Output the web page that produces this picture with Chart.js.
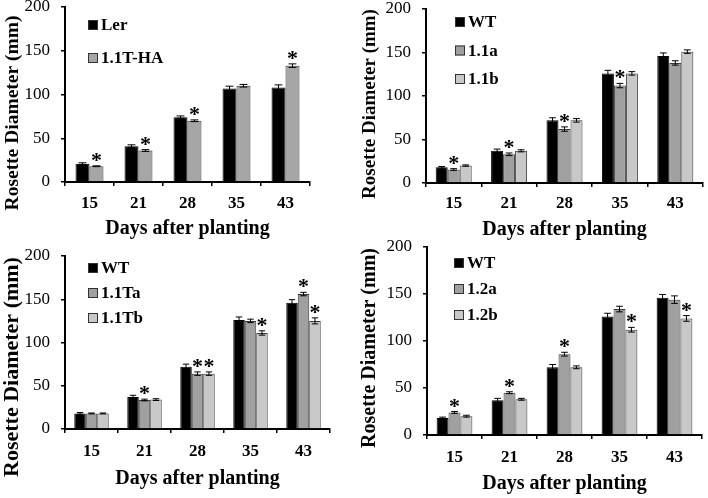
<!DOCTYPE html>
<html><head><meta charset="utf-8">
<script src="https://cdn.jsdelivr.net/npm/chart.js@4.4.1/dist/chart.umd.min.js"></script>
<style>
html,body{margin:0;padding:0;background:#fff;}
body{width:708px;height:498px;position:relative;overflow:hidden;}
canvas{position:absolute;}
</style></head><body>
<canvas id="c1" width="354" height="249" style="left:0;top:0"></canvas>
<canvas id="c2" width="354" height="249" style="left:354px;top:0"></canvas>
<canvas id="c3" width="354" height="249" style="left:0;top:249px"></canvas>
<canvas id="c4" width="354" height="260" style="left:354px;top:238px"></canvas>
<script>
// ---- data ----
const days = ['15', '21', '28', '35', '43'];
const yTicks = [0, 50, 100, 150, 200];
const xTitle = 'Days after planting';
const yTitle = 'Rosette Diameter (mm)';

// Panel A
const lerMean   = [21, 41, 74, 107, 108];
const lerErr    = [1, 1.5, 1.5, 2.5, 3];
const t11haMean = [18, 36, 70, 110, 133];
const t11haErr  = [0.5, 1, 1, 1.5, 2];
const t11haSig  = [1, 1, 1, 0, 1];

// Panel B
const wtBMean = [18, 37, 72, 126, 146];
const wtBErr  = [1, 2, 3, 3.5, 3.5];
const a11Mean = [15.5, 33, 62, 112, 138];
const a11Err  = [1, 1.5, 2.5, 2.5, 2.5];
const a11Sig  = [1, 1, 1, 1, 0];
const b11Mean = [20, 37, 72, 126, 151];
const b11Err  = [0.8, 1.2, 2, 2, 2];

// Panel C
const wtCMean = [18, 37, 72, 126, 146];
const wtCErr  = [1, 2, 3, 3.5, 3.5];
const taMean  = [18, 33.5, 64, 125, 156];
const taErr   = [0.5, 1, 2, 2, 2];
const taSig   = [0, 1, 1, 0, 1];
const tbMean  = [18, 34, 64, 111, 125];
const tbErr   = [0.5, 1, 2, 2.5, 3.5];
const tbSig   = [0, 0, 1, 1, 1];

// Panel D
const wtDMean = [18, 37, 72, 126, 146];
const wtDErr  = [1, 2, 3, 3.5, 3.5];
const a12Mean = [24, 45, 86, 134, 144];
const a12Err  = [1, 1, 2, 3, 4];
const a12Sig  = [1, 1, 1, 0, 0];
const b12Mean = [20, 38, 72, 112, 124];
const b12Err  = [1, 1, 1.5, 2.5, 3];
const b12Sig  = [0, 0, 0, 1, 1];
const noSig   = [0, 0, 0, 0, 0];

const FAM = "'Liberation Serif','Times New Roman',serif";

const errPlugin = {
  id: 'errStars',
  afterDatasetsDraw(chart) {
    const ctx = chart.ctx, ys = chart.scales.y;
    ctx.save();
    chart.data.datasets.forEach((ds, di) => {
      const meta = chart.getDatasetMeta(di);
      meta.data.forEach((bar, i) => {
        const v = ds.data[i], e = ds.errors[i];
        const yt = ys.getPixelForValue(v + e), yb = ys.getPixelForValue(v - e);
        const cap = bar.width * 0.28;
        ctx.strokeStyle = '#000'; ctx.lineWidth = 1;
        ctx.beginPath();
        ctx.moveTo(bar.x, yt); ctx.lineTo(bar.x, yb);
        ctx.moveTo(bar.x - cap, yt); ctx.lineTo(bar.x + cap, yt);
        ctx.moveTo(bar.x - cap, yb); ctx.lineTo(bar.x + cap, yb);
        ctx.stroke();
        if (ds.sig[i]) {
          ctx.fillStyle = '#000';
          ctx.font = 'bold 22px ' + FAM;
          ctx.textAlign = 'center'; ctx.textBaseline = 'alphabetic';
          ctx.fillText('*', bar.x, yt + 1);
        }
      });
    });
    ctx.restore();
  }
};

const legendPlugin = {
  id: 'boxLegend',
  afterDraw(chart, args, opts) {
    const ctx = chart.ctx, a = chart.chartArea;
    ctx.save();
    chart.data.datasets.forEach((ds, k) => {
      const cy = a.top + opts.y0 + k * opts.dy;
      const x = a.left + opts.dx;
      ctx.fillStyle = ds.backgroundColor;
      ctx.fillRect(x, cy - 5, 10, 10);
      ctx.strokeStyle = '#333'; ctx.lineWidth = 1;
      ctx.strokeRect(x + 0.5, cy - 4.5, 9, 9);
      ctx.fillStyle = '#000';
      ctx.font = 'bold 17px ' + FAM;
      ctx.textAlign = 'left'; ctx.textBaseline = 'middle';
      ctx.fillText(ds.label, x + 13, cy + 1);
    });
    ctx.restore();
  }
};

// vertical axis title, drawn along the y scale (not limited to the plot height)
const yTitlePlugin = {
  id: 'yTitleFree',
  afterDraw(chart, args, opts) {
    const ctx = chart.ctx;
    ctx.save();
    ctx.translate(opts.x, opts.cy);
    ctx.rotate(-Math.PI / 2);
    ctx.fillStyle = '#000';
    ctx.font = 'bold ' + opts.size + 'px ' + FAM;
    ctx.textAlign = 'center'; ctx.textBaseline = 'middle';
    ctx.fillText(opts.text, 0, 0);
    ctx.restore();
  }
};

function makePanel(id, cfg) {
  const cv = document.getElementById(id);
  const W = cv.width, H = cv.height, A = cfg.area;
  new Chart(cv, {
    type: 'bar',
    data: {
      labels: days,
      datasets: cfg.series.map(s => ({
        label: s.label, data: s.data, errors: s.err, sig: s.sig,
        backgroundColor: s.color, borderColor: s.border, borderWidth: 1,
        categoryPercentage: cfg.group, barPercentage: 1
      }))
    },
    options: {
      responsive: false, animation: false, devicePixelRatio: 1,
      layout: { padding: { left: 0, top: A.t, right: W - A.r, bottom: 0 } },
      plugins: {
        legend: { display: false }, tooltip: { enabled: false },
        boxLegend: cfg.legend,
        yTitleFree: Object.assign({ text: yTitle }, cfg.ytitle)
      },
      scales: {
        x: {
          grid: { display: true, drawOnChartArea: false, drawTicks: true, tickLength: 4, color: '#000', lineWidth: 1.5 },
          border: { display: true, color: '#000', width: 2 },
          ticks: { color: '#000', padding: cfg.xpad, font: { family: FAM, size: 17, weight: 'bold' } },
          title: { display: true, text: xTitle, color: '#000',
                   font: { family: FAM, size: 20, weight: 'bold' }, padding: { top: 0, bottom: cfg.xtp } },
          afterFit: s => { s.height = H - A.b; s.paddingLeft = 0; s.paddingRight = 0; }
        },
        y: {
          min: 0, max: 200,
          afterBuildTicks: s => { s.ticks = yTicks.map(v => ({ value: v })); },
          grid: { display: true, drawOnChartArea: false, drawTicks: true, tickLength: 4, color: '#000', lineWidth: 1.5 },
          border: { display: true, color: '#000', width: 2 },
          ticks: { color: '#000', padding: 11, font: { family: FAM, size: 17 } },
          title: { display: false },
          afterFit: s => { s.width = A.l; s.paddingTop = 0; s.paddingBottom = 0; }
        }
      }
    },
    plugins: [errPlugin, legendPlugin, yTitlePlugin]
  });
}

makePanel('c1', {
  area: { l: 65, r: 310, t: 7, b: 182 }, group: 0.57, xpad: 7, xtp: 8,
  ytitle: { x: 13, cy: 113, size: 19.5 },
  legend: { dx: 23, y0: 18, dy: 33 },
  series: [
    { label: 'Ler', data: lerMean, err: lerErr, sig: noSig, color: '#000000', border: '#000000' },
    { label: '1.1T-HA', data: t11haMean, err: t11haErr, sig: t11haSig, color: '#a6a6a6', border: '#3a3a3a' }
  ]
});
makePanel('c2', {
  area: { l: 72, r: 349, t: 9, b: 183 }, group: 0.65, xpad: 6, xtp: 7,
  ytitle: { x: 16, cy: 104, size: 19 },
  legend: { dx: 29, y0: 13, dy: 28.5 },
  series: [
    { label: 'WT', data: wtBMean, err: wtBErr, sig: noSig, color: '#000000', border: '#000000' },
    { label: '1.1a', data: a11Mean, err: a11Err, sig: a11Sig, color: '#a0a0a0', border: '#3a3a3a' },
    { label: '1.1b', data: b11Mean, err: b11Err, sig: noSig, color: '#c8c8c8', border: '#3a3a3a' }
  ]
});
makePanel('c3', {
  area: { l: 65, r: 330, t: 7, b: 180 }, group: 0.65, xpad: 8, xtp: 7,
  ytitle: { x: 12, cy: 118, size: 22 },
  legend: { dx: 23, y0: 12, dy: 25 },
  series: [
    { label: 'WT', data: wtCMean, err: wtCErr, sig: noSig, color: '#000000', border: '#000000' },
    { label: '1.1Ta', data: taMean, err: taErr, sig: taSig, color: '#a0a0a0', border: '#3a3a3a' },
    { label: '1.1Tb', data: tbMean, err: tbErr, sig: tbSig, color: '#c8c8c8', border: '#3a3a3a' }
  ]
});
makePanel('c4', {
  area: { l: 73, r: 348, t: 9, b: 197 }, group: 0.65, xpad: 8, xtp: 2,
  ytitle: { x: 16, cy: 110, size: 20 },
  legend: { dx: 27, y0: 16, dy: 26 },
  series: [
    { label: 'WT', data: wtDMean, err: wtDErr, sig: noSig, color: '#000000', border: '#000000' },
    { label: '1.2a', data: a12Mean, err: a12Err, sig: a12Sig, color: '#a0a0a0', border: '#3a3a3a' },
    { label: '1.2b', data: b12Mean, err: b12Err, sig: b12Sig, color: '#c8c8c8', border: '#3a3a3a' }
  ]
});
</script>
</body></html>
